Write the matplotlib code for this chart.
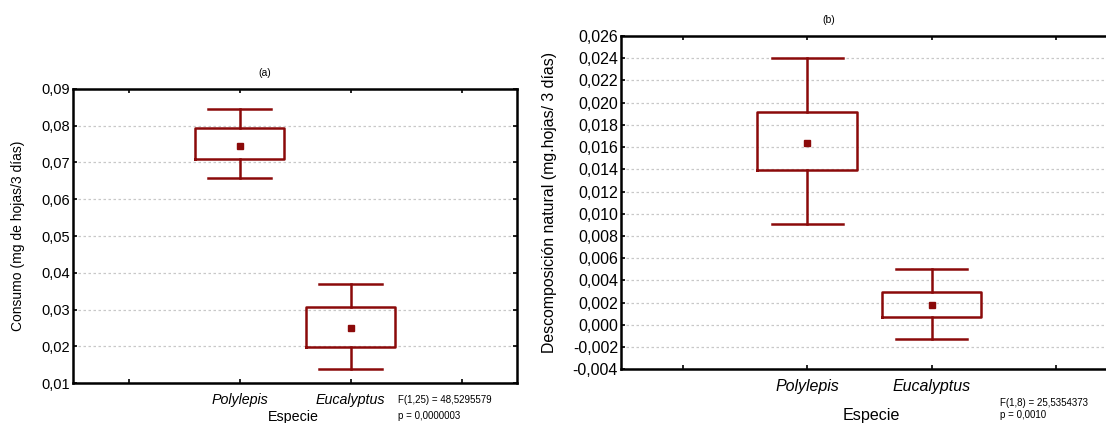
import matplotlib
matplotlib.use("Agg")
import matplotlib.pyplot as plt

plt.rcParams['font.family'] = ['Liberation Sans', 'DejaVu Sans']

categories = ["Polylepis", "Eucalyptus"]

# Panel (a): consumo
a_mean = [0.0745, 0.0249]
a_box_lo = [0.0709, 0.0199]
a_box_hi = [0.0793, 0.0307]
a_whis_lo = [0.0657, 0.0137]
a_whis_hi = [0.0845, 0.0369]
a_yticks = [0.01, 0.02, 0.03, 0.04, 0.05, 0.06, 0.07, 0.08, 0.09]
a_yticklabels = ["0,01", "0,02", "0,03", "0,04", "0,05", "0,06", "0,07", "0,08", "0,09"]

# Panel (b): descomposición natural
b_mean = [0.0164, 0.0018]
b_box_lo = [0.0139, 0.0007]
b_box_hi = [0.0192, 0.0030]
b_whis_lo = [0.0091, -0.0013]
b_whis_hi = [0.0240, 0.0050]
b_yticks = [-0.004, -0.002, 0.0, 0.002, 0.004, 0.006, 0.008, 0.010, 0.012,
            0.014, 0.016, 0.018, 0.020, 0.022, 0.024, 0.026]
b_yticklabels = ["-0,004", "-0,002", "0,000", "0,002", "0,004", "0,006", "0,008",
                 "0,010", "0,012", "0,014", "0,016", "0,018", "0,020", "0,022",
                 "0,024", "0,026"]

RED = '#8b0a0a'

fig = plt.figure(figsize=(11.06, 4.23), dpi=100)


def panel(rect, mean, lo, hi, wlo, whi, yticks, yticklabels, ylabel,
          tick_fs, cat_fs, ylab_fs, lw, ms):
    ax = fig.add_axes(rect)
    stats = []
    for i in range(len(categories)):
        stats.append(dict(med=mean[i], q1=lo[i], q3=hi[i], whislo=wlo[i],
                          whishi=whi[i], mean=mean[i], label=categories[i]))
    ax.bxp(stats, positions=[2, 3], widths=0.8, capwidths=0.57,
           showmeans=True, showfliers=False,
           boxprops=dict(color=RED, linewidth=lw),
           whiskerprops=dict(color=RED, linewidth=lw),
           capprops=dict(color=RED, linewidth=lw),
           medianprops=dict(linewidth=0, alpha=0),
           meanprops=dict(marker='s', markerfacecolor=RED, markeredgecolor=RED,
                          markersize=ms))
    ax.set_xlim(0.5, 4.5)
    ax.set_ylim(yticks[0], yticks[-1])
    ax.set_xticks([1, 2, 3, 4])
    ax.set_xticklabels(["", categories[0], categories[1], ""],
                       fontstyle='italic', fontsize=cat_fs)
    ax.set_yticks(yticks)
    ax.set_yticklabels(yticklabels, fontsize=tick_fs)
    ax.tick_params(direction='in', length=3, width=1.2, top=True, right=True,
                   color='black', pad=2)
    ax.tick_params(axis='x', pad=7)
    ax.yaxis.grid(True, linestyle=(0, (2, 2)), color='#c8c8c8', linewidth=0.9)
    ax.set_axisbelow(True)
    for s in ax.spines.values():
        s.set_linewidth(1.8)
        s.set_color('black')
    ax.set_ylabel(ylabel, fontsize=ylab_fs)
    return ax


ax1 = panel([73/1106, 40/423, 444/1106, 294/423], a_mean, a_box_lo, a_box_hi,
            a_whis_lo, a_whis_hi, a_yticks, a_yticklabels,
            "Consumo (mg de hojas/3 días)", 10.5, 10.3, 10, 1.8, 4.5)
ax2 = panel([620.7/1106, 53.7/423, 497.3/1106, 333.3/423], b_mean, b_box_lo, b_box_hi,
            b_whis_lo, b_whis_hi, b_yticks, b_yticklabels,
            "Descomposición natural (mg.hojas/ 3 días)", 11.5, 11.5, 11.4, 1.8, 5)
ax1.yaxis.set_label_coords((25 - 73) / 444, 0.5)
ax2.yaxis.set_label_coords((557 - 620.7) / 497.3, 0.5)

fig.text(265/1106, 1 - 73/423, "(a)", ha='center', va='center', fontsize=7.5)
fig.text(829/1106, 1 - 20/423, "(b)", ha='center', va='center', fontsize=7.5)

fig.text(293/1106, 1 - 410/423, "Especie", ha='center', va='top', fontsize=10.3)
fig.text(871/1106, 1 - 415/423, "Especie", ha='center', va='center', fontsize=11.6)

fig.text(398/1106, 1 - 400/423, "F(1,25) = 48,5295579",
         ha='left', va='center', fontsize=7)
fig.text(398/1106, 1 - 416/423, "p = 0,0000003",
         ha='left', va='center', fontsize=7)
fig.text(1000/1106, 1 - 403/423, "F(1,8) = 25,5354373",
         ha='left', va='center', fontsize=7)
fig.text(1000/1106, 1 - 415/423, "p = 0,0010",
         ha='left', va='center', fontsize=7)

fig.savefig("out.png", dpi=100)
